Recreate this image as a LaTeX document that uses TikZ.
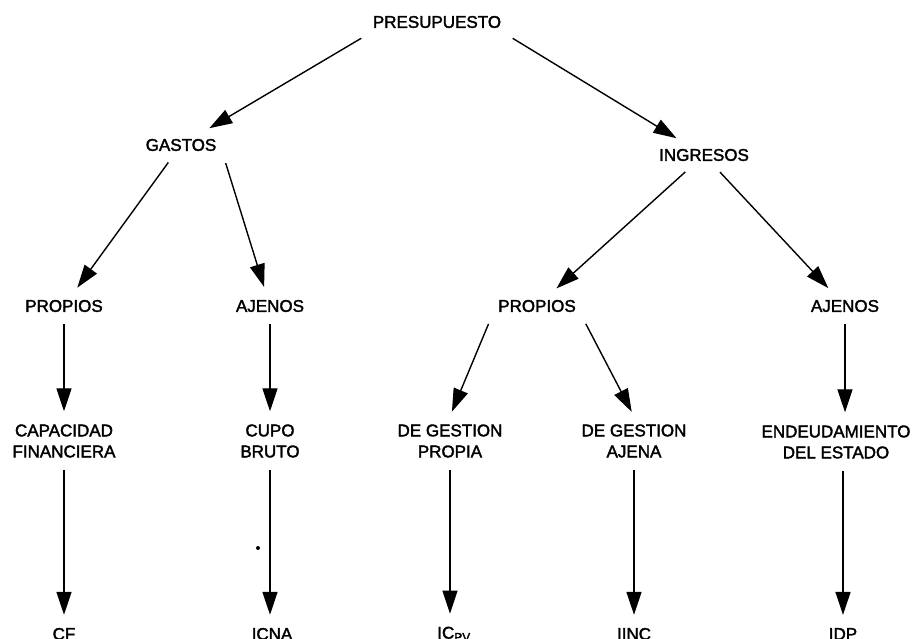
\documentclass[tikz,border=0pt]{standalone}
\usepackage{fontspec}
\setmainfont{Liberation Sans}
\newfontfamily\diagfont{Liberation Sans}[FakeBold=2]
\usepackage{tikz}
\usetikzlibrary{arrows.meta}

\begin{document}
\begin{tikzpicture}[x=1pt,y=-1pt,
    box node/.style={inner sep=8pt,align=center,font=\diagfont\fontsize{17}{21}\selectfont},
    every edge/.style={draw,line width=1.4pt,-{Triangle[length=23pt,width=15pt]},shorten <=4pt,shorten >=5pt}]
        \useasboundingbox (0,0) rectangle (914,639);
        \node[box node] (pres) at (437,22) {PRESUPUESTO};
        \node[box node] (gastos) at (181,145) {GASTOS};
        \node[box node] (ingresos) at (704,155) {INGRESOS};
        \node[box node] (gprop) at (64,306) {PROPIOS};
        \node[box node] (gajen) at (270,306) {AJENOS};
        \node[box node] (iprop) at (537,306) {PROPIOS};
        \node[box node] (iajen) at (845,306) {AJENOS};
        \node[box node] (capfin) at (64,441) {CAPACIDAD\\FINANCIERA};
        \node[box node] (cupo) at (270,441) {CUPO\\BRUTO};
        \node[box node] (dgprop) at (450,441) {DE GESTION\\PROPIA};
        \node[box node] (dgajen) at (634,441) {DE GESTION\\AJENA};
        \node[box node] (endeud) at (836,442) {ENDEUDAMIENTO\\DEL ESTADO};
        \node[box node] (cf) at (64,634) {CF};
        \node[box node] (icna) at (272,634) {ICNA};
        \node[box node] (icpv) at (454,634) {IC\textsubscript{PV}};
        \node[box node] (iinc) at (634,634) {IINC};
        \node[box node] (idp) at (843,634) {IDP};
        \fill (258,548) circle (2pt);
        \path
          (pres.south west) edge (gastos)
          (pres.south east) edge (ingresos)
          (gastos) edge (gprop)
          (gastos.south east) edge (gajen)
          (ingresos) edge (iprop)
          (ingresos) edge (iajen)
          (gprop) edge (capfin)
          (gajen) edge (cupo)
          (iprop.south west) edge (dgprop.north)
          (iprop.south east) edge (dgajen.north)
          (iajen) edge (iajen |- endeud.north)
          (capfin) edge (cf)
          (cupo.south) edge (cupo.south |- icna.north)
          (dgprop.south) edge (dgprop.south |- icpv.north)
          (dgajen) edge (iinc)
          (endeud.south -| idp) edge (idp);
      \end{tikzpicture}
\end{document}
